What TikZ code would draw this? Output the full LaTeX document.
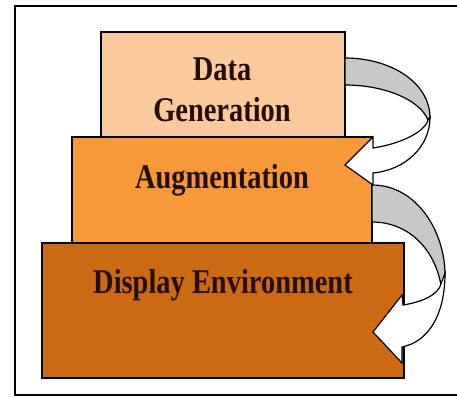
\documentclass[tikz,border=0pt]{standalone}
\usepackage{fontspec}
\setmainfont{Liberation Serif}[FakeStretch=0.82]
\usetikzlibrary{positioning}

\definecolor{genfill}{RGB}{250,201,156}
\definecolor{augfill}{RGB}{247,153,56}
\definecolor{dispfill}{RGB}{204,106,20}
\definecolor{backfill}{RGB}{200,200,200}
\definecolor{inkbrown}{RGB}{35,15,6}

\tikzset{every picture/.style={line width=0.75pt}}
\tikzset{
  stage/.style={draw, line width=2pt, inner sep=0pt, outer sep=0pt},
  stagetext/.style={inner sep=0pt, text=inkbrown, align=center,
    font=\bfseries\fontsize{34.7}{41}\selectfont},
  backside/.style={draw, fill=backfill, line width=1.2pt, line join=round},
  frontside/.style={draw, fill=white, line width=1.2pt, line join=miter},
}

\begin{document}
\begin{tikzpicture}[x=1pt,y=1pt,yscale=-1,xscale=1]
\useasboundingbox (0,0) rectangle (457,397);

%Frame (right side runs off the page)
\draw [line width=2.5pt] (15,6) rectangle (461,395);

%Stages, top to bottom
\node [stage, fill=genfill, minimum width=244, minimum height=105] (gen) at (223,84.5) {};
\node [stage, fill=augfill, minimum width=300, minimum height=106] (aug) at (222,190) {};
\node [stage, fill=dispfill, minimum width=362, minimum height=135] (disp) at (223,310.5) {};

%Curved arrow: generation -> augmentation
\begin{scope}[shift={(gen.north east)}]
\draw [backside] (0,26) .. controls (45,26) and (85,50) .. (85,86)
  -- (83,88) .. controls (75,68) and (40,53) .. (0,53) -- cycle;
\draw [frontside] (85,85) .. controls (85,115) and (60,138) .. (28,141)
  -- (28,153) -- (0,133) -- (28,105) -- (28,116)
  .. controls (55,112) and (80,100) .. (83,88) -- cycle;
\end{scope}

%Curved arrow: augmentation -> display
\begin{scope}[shift={(aug.north east)}]
\draw [backside] (0,48) .. controls (45,48) and (73,95) .. (73,138)
  -- (69,148) .. controls (62,110) and (35,85) .. (0,85) -- cycle;
\draw [frontside] (73,136) .. controls (73,180) and (55,205) .. (30,210)
  -- (30,226) -- (1,195) -- (30,158) -- (31,168)
  .. controls (50,165) and (66,158) .. (69,147) -- cycle;
\end{scope}

% Text Nodes
\node [stagetext] (genlbl) at (222,90) {Data\\Generation};
\node [stagetext, anchor=base] (auglbl) at (222,188) {Augmentation};
\node [stagetext, anchor=base] (displbl) at (223,293) {Display Environment};

\end{tikzpicture}
\end{document}
